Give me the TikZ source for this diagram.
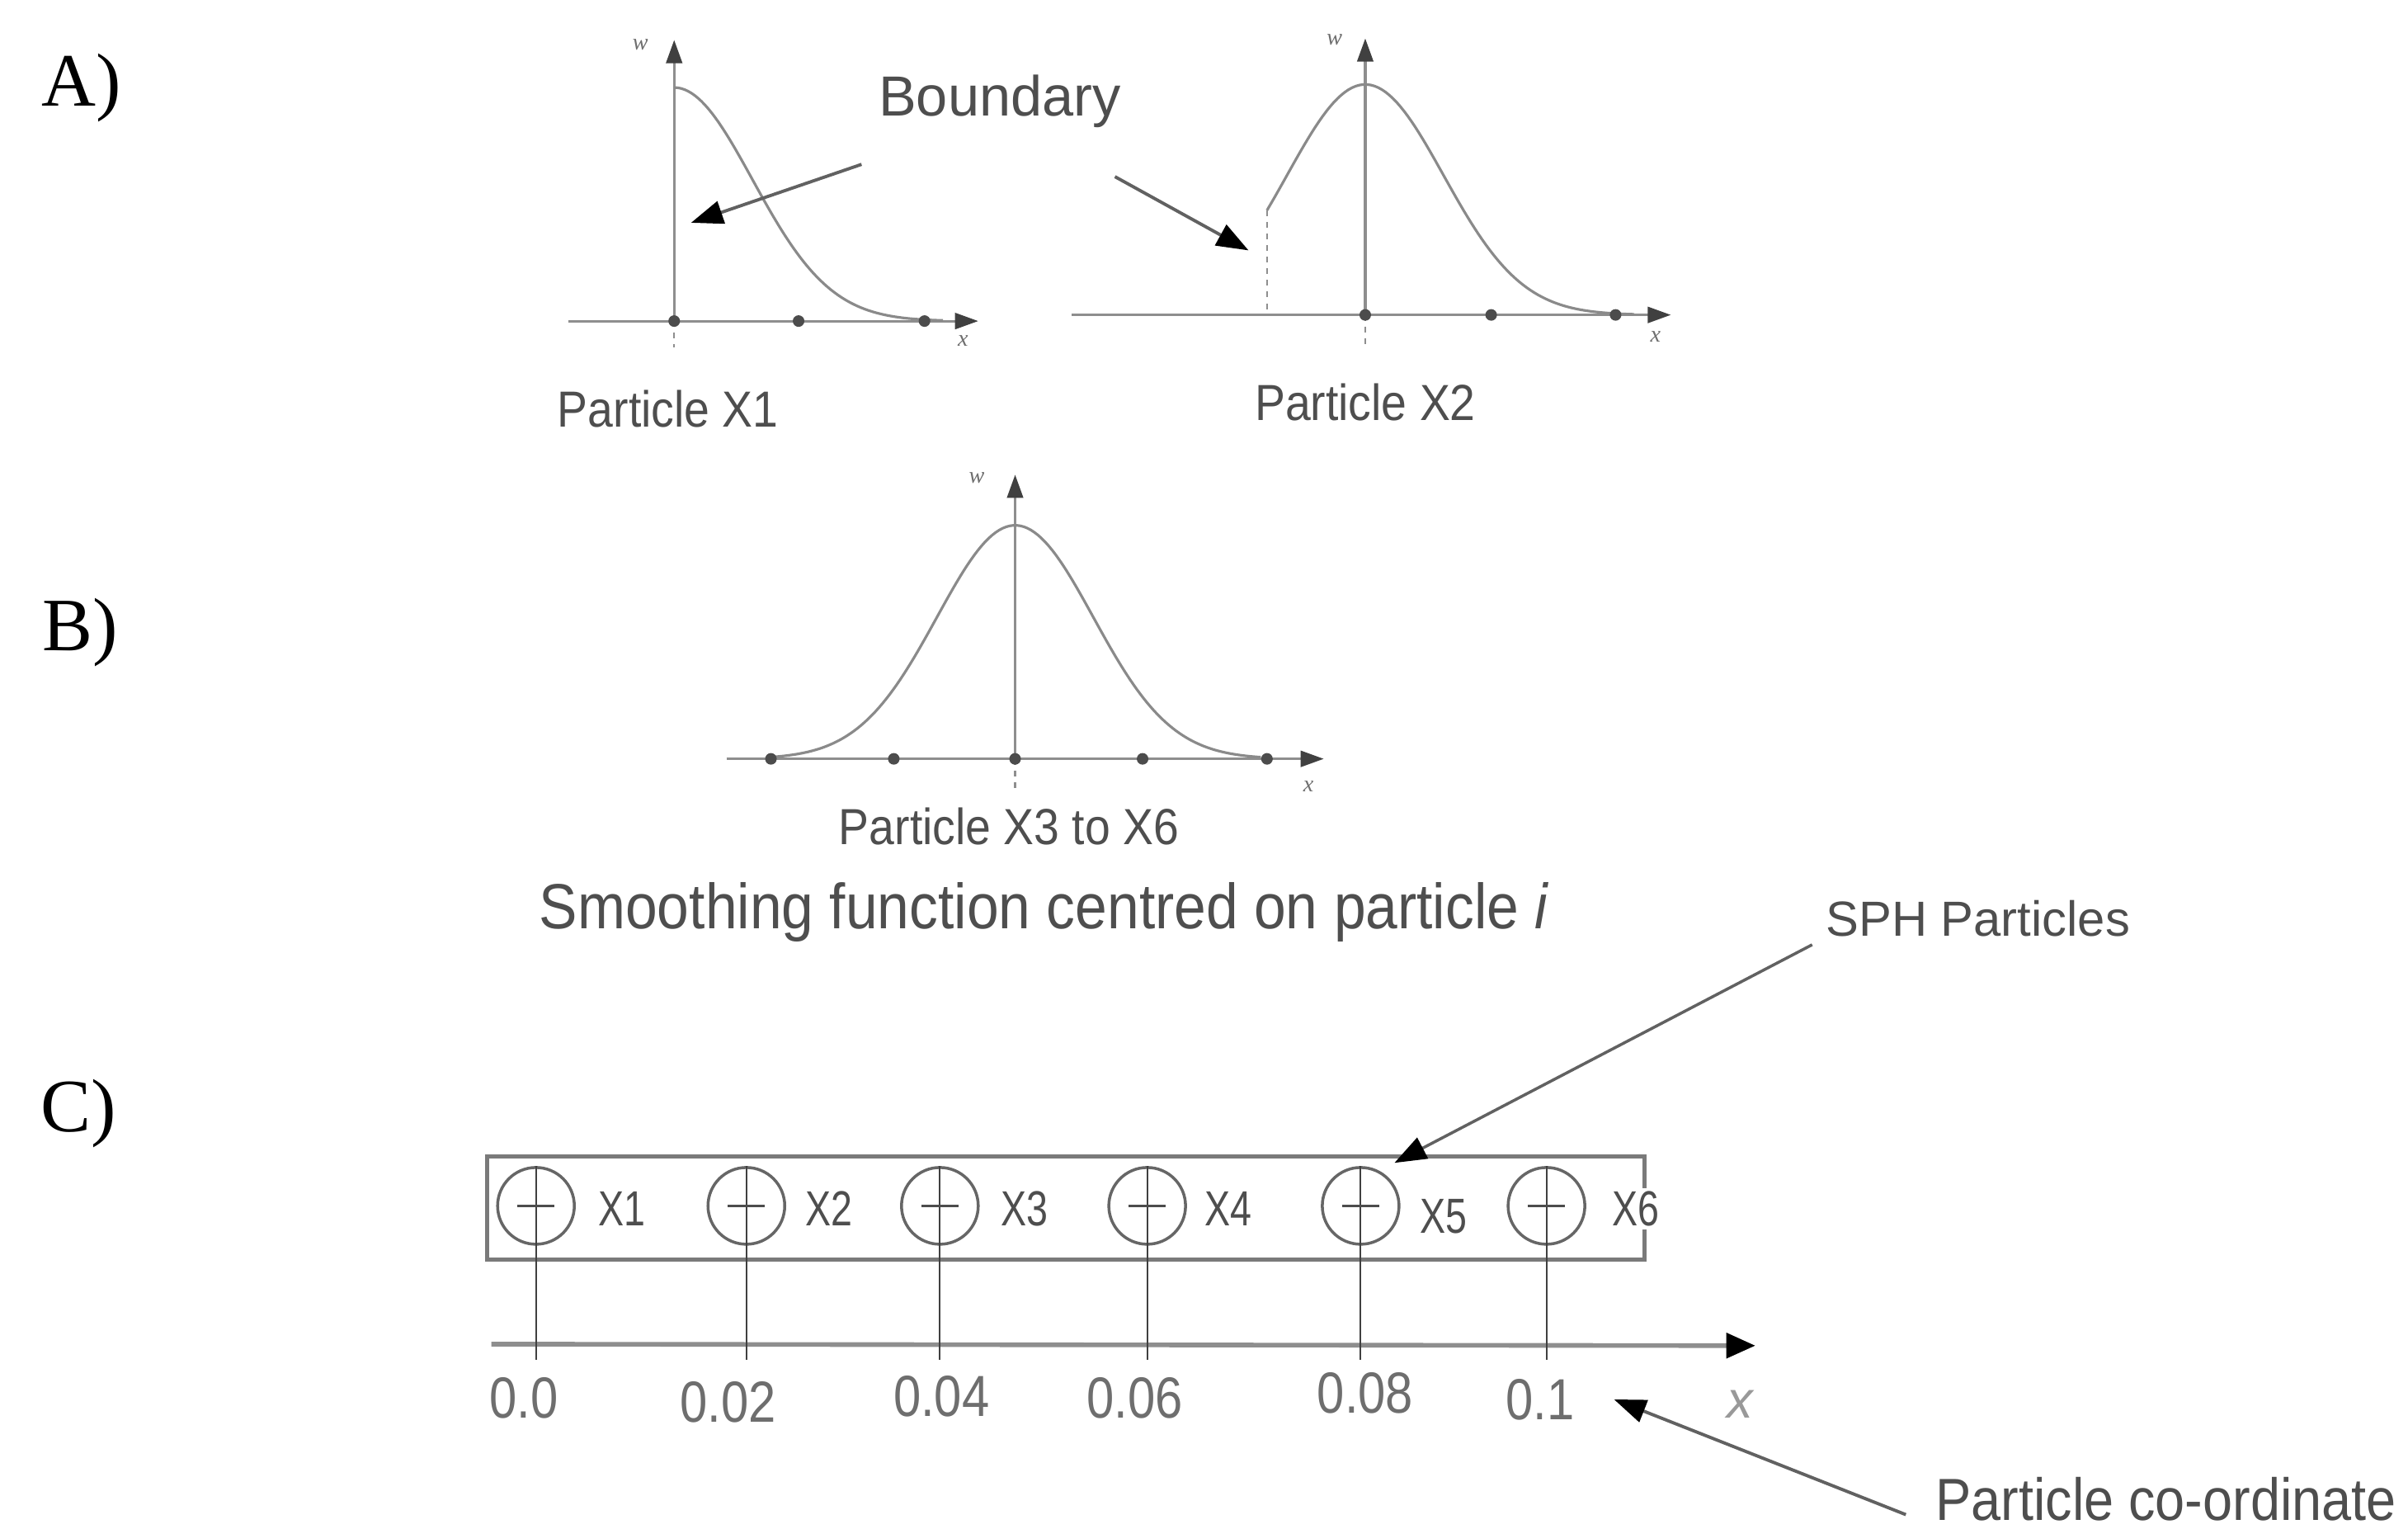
\documentclass[tikz,border=0pt]{standalone}
\usepackage{fontspec}
\setmainfont{Liberation Sans}
\newfontfamily\labelserif{Liberation Serif}
\newfontfamily\sansA[FakeStretch=0.9]{Liberation Sans}
\newfontfamily\sansB[FakeStretch=0.85]{Liberation Sans}
\newfontfamily\sansC[FakeStretch=0.78]{Liberation Sans}
\usetikzlibrary{arrows.meta,calc}

\definecolor{txt}{HTML}{4E4E4E}
\definecolor{lighttxt}{HTML}{6E6E6E}
\definecolor{axisgray}{HTML}{8E8E8E}
\definecolor{curvegray}{HTML}{8A8A8A}
\definecolor{boxgray}{HTML}{7A7A7A}

\tikzset{
  panel/.style={font=\labelserif\fontsize{26}{30}\selectfont, text=black},
  axisline/.style={draw=axisgray, line width=0.9pt,
    -{Triangle[length=8pt,width=5.5pt,color=black!75]}},
  extline/.style={draw=axisgray, line width=0.6pt, dash pattern=on 2pt off 2pt},
  kernel/.style={draw=curvegray, line width=0.9pt},
  sample/.style={circle, fill=black!70, inner sep=0pt, minimum size=4pt},
  tinylabel/.style={font=\labelserif\itshape\fontsize{8}{9}\selectfont, text=lighttxt},
  caption/.style={font=\sansA\fontsize{17.5}{20}\selectfont, text=txt},
  pointer/.style={draw=black!62, line width=1.1pt,
    -{Triangle[length=11pt,width=8pt,color=black]}},
  particle/.style={circle, draw=black!60, line width=1pt, minimum size=0.93cm, inner sep=0pt},
  plabel/.style={font=\sansC\fontsize{17}{19}\selectfont, text=txt, fill=white, inner sep=1pt},
  ticklabel/.style={font=\sansB\fontsize{20}{22}\selectfont, text=lighttxt},
  rod/.style={draw=black!75, line width=0.6pt},
  cross/.style={draw=black!70, line width=1pt}
}

\begin{document}
\begin{tikzpicture}[x=0.018616cm, y=-0.018616cm]
\useasboundingbox (0,0) rectangle (1568,995);

% panel letters
\node[panel] (labA) at (53,57) {A)};
\node[panel] (labB) at (52,412) {B)};
\node[panel] (labC) at (51,725) {C)};

% ---------- A) kernel of particle X1 (cut by the boundary) ----------
\draw[extline] (439,209) -- (439,226);
\draw[axisline] (370,209) -- (637,209);
\draw[axisline] (439,209) -- (439,26);
\draw[kernel] plot[domain=0:175, samples=80] ({439+\x},{209-152*exp(-((\x/72)^2))});
\node[sample] (a1) at (439,209) {};
\node[sample] (a2) at (520,209) {};
\node[sample] (a3) at (602,209) {};
\node[tinylabel] (aw) at (417,29) {w};
\node[tinylabel] (ax) at (627,222) {x};
\node[caption] (capX1) at (435,266) {Particle X1};

% ---------- A) kernel of particle X2 (truncated on the left) ----------
\draw[extline] (889,205) -- (889,224);
\draw[axisline] (698,205) -- (1088,205);
\draw[axisline] (889,205) -- (889,25);
\draw[kernel] plot[domain=-64:175, samples=100] ({889+\x},{205-150*exp(-((\x/72)^2))});
\draw[extline] (825,137) -- (825,205);
\node[sample] (b1) at (889,205) {};
\node[sample] (b2) at (971,205) {};
\node[sample] (b3) at (1052,205) {};
\node[tinylabel] (bw) at (869,26) {w};
\node[tinylabel] (bx) at (1078,219) {x};
\node[caption] (capX2) at (889,262) {Particle X2};

% boundary annotation
\node[font=\fontsize{19.5}{22}\selectfont, text=txt] (bound) at (651,66) {Boundary};
\coordinate (bA1) at (561,107);
\coordinate (bT1) at (450,145);
\coordinate (bA2) at (726,115);
\coordinate (bT2) at (813,163);
\draw[pointer] (bA1) -- (bT1);
\draw[pointer] (bA2) -- (bT2);

% ---------- B) full kernel ----------
\draw[extline] (661,494) -- (661,514);
\draw[axisline] (473,494) -- (862,494);
\draw[axisline] (661,494) -- (661,309);
\draw[kernel] plot[domain=-160:160, samples=140] ({661+\x},{494-152*exp(-((\x/72)^2))});
\foreach \n/\px in {1/502,2/582,3/661,4/744,5/825}
  \node[sample] (c\n) at (\px,494) {};
\node[tinylabel] (cw) at (636,311) {w};
\node[tinylabel] (cx) at (852,512) {x};
\node[caption] (capX3) at (657,538) {Particle X3 to X6};
\node[font=\sansA\fontsize{22}{25}\selectfont, text=txt] (smooth) at (680,594)
  {Smoothing function centred on particle \textit{i}};

% ---------- C) particle row ----------
\node[draw=boxgray, line width=1.4pt, minimum width=754*0.018616cm,
      minimum height=67*0.018616cm, inner sep=0pt] (box) at (694,786.5) {};

\draw[draw=axisgray, line width=1.6pt,
      -{Triangle[length=10pt,width=8.5pt,color=black]}] (320,875) -- (1143,876);

\foreach \i/\px/\lx/\ly/\tx/\ty/\tv in {
    1/349/405/787/341/910/0.0,
    2/486/540/787/474/913/0.02,
    3/612/667/787/613/909/0.04,
    4/747/800/787/739/910/0.06,
    5/886/940/792/889/907/0.08,
    6/1007/1065/787/1003/911/0.1}{
  \node[particle] (p\i) at (\px,785) {};
  \draw[rod] (p\i.north) -- (\px,885);
  \draw[cross] ($(p\i.center)+(-12,0)$) -- ($(p\i.center)+(12,0)$);
  \node[plabel] (x\i) at (\lx,\ly) {X\i};
  \node[ticklabel] (t\i) at (\tx,\ty) {\tv};
}
\node[font=\itshape\fontsize{18}{20}\selectfont, text=black!40] (cx) at (1133,914) {x};

% SPH particle annotation
\node[font=\fontsize{17}{19}\selectfont, text=txt] (sph) at (1288,598) {SPH Particles};
\coordinate (sA) at (1180,615);
\coordinate (sT) at (908,757);
\draw[pointer, line width=1pt] (sA) -- (sT);

% particle co-ordinate annotation
\node[font=\sansA\fontsize{20.5}{23}\selectfont, text=txt, anchor=west, inner sep=0pt] (coord) at (1260,976) {Particle co-ordinate};
\coordinate (kA) at (1241,986);
\coordinate (kT) at (1051,911);
\draw[pointer] (kA) -- (kT);
\end{tikzpicture}
\end{document}
